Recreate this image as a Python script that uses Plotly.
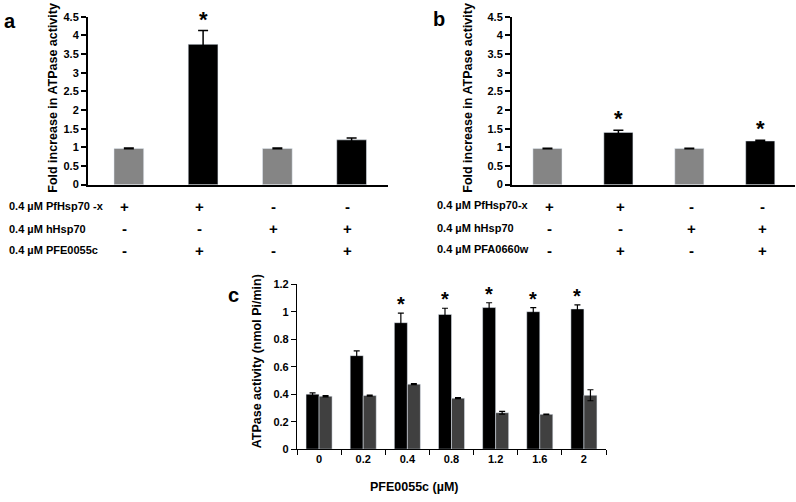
import plotly.graph_objects as go

# ---------------- data ----------------
# Panel a
cats_a = ["PfHsp70-x", "PfHsp70-x + PFE0055c", "hHsp70", "hHsp70 + PFE0055c"]
vals_a = [0.97, 3.76, 0.97, 1.20]
err_a = [0.01, 0.37, 0.01, 0.05]
colors_a = ["#858585", "#000000", "#858585", "#000000"]
sig_a = [False, True, False, False]
rows_a = ["0.4 µM PfHsp70 -x", "0.4 µM hHsp70", "0.4 µM PFE0055c"]
signs_a = [["+", "+", "-", "-"], ["-", "-", "+", "+"], ["-", "+", "-", "+"]]

# Panel b
cats_b = ["PfHsp70-x", "PfHsp70-x + PFA0660w", "hHsp70", "hHsp70 + PFA0660w"]
vals_b = [0.97, 1.40, 0.97, 1.17]
err_b = [0.005, 0.06, 0.005, 0.02]
colors_b = ["#858585", "#000000", "#858585", "#000000"]
sig_b = [False, True, False, True]
rows_b = ["0.4 µM PfHsp70-x", "0.4 µM hHsp70", "0.4 µM PFA0660w"]
signs_b = [["+", "+", "-", "-"], ["-", "-", "+", "+"], ["-", "+", "-", "+"]]

# Panel c
conc_c = ["0", "0.2", "0.4", "0.8", "1.2", "1.6", "2"]
pf_c = [0.40, 0.68, 0.92, 0.98, 1.03, 1.00, 1.02]
pf_err_c = [0.01, 0.035, 0.07, 0.045, 0.035, 0.03, 0.03]
h_c = [0.385, 0.39, 0.473, 0.371, 0.265, 0.253, 0.392]
h_err_c = [0.005, 0.004, 0.004, 0.004, 0.01, 0.002, 0.04]
sig_c = [False, False, True, True, True, True, True]

W, H = 796, 502
FONT = "Liberation Sans, Arial, sans-serif"


def px(x):
    return x / W


def py(y):
    return 1 - y / H


fig = go.Figure()

# ---------------- panel a ----------------
fig.add_trace(go.Bar(
    x=cats_a, y=vals_a, marker_color=colors_a, width=0.4,
    error_y=dict(type="data", array=err_a, color="black", thickness=1.5, width=5),
    xaxis="x", yaxis="y", showlegend=False))

# ---------------- panel b ----------------
fig.add_trace(go.Bar(
    x=cats_b, y=vals_b, marker_color=colors_b, width=0.41,
    error_y=dict(type="data", array=err_b, color="black", thickness=1.5, width=5),
    xaxis="x2", yaxis="y2", showlegend=False))

# ---------------- panel c ----------------
fig.add_trace(go.Bar(
    x=conc_c, y=pf_c, name="PfHsp70-x", marker_color="#000000",
    error_y=dict(type="data", array=pf_err_c, color="black", thickness=1.2, width=3),
    xaxis="x3", yaxis="y3", showlegend=False))
fig.add_trace(go.Bar(
    x=conc_c, y=h_c, name="hHsp70", marker_color="#404040",
    error_y=dict(type="data", array=h_err_c, color="black", thickness=1.2, width=3),
    xaxis="x3", yaxis="y3", showlegend=False))

bold11 = dict(family=FONT, size=11, color="black", weight="bold")

yax_common = dict(showline=True, linecolor="black", ticks="outside", ticklen=5,
                  tickcolor="black", tickfont=bold11, showgrid=False, zeroline=False)

fig.update_layout(
    width=W, height=H,
    margin=dict(l=0, r=0, t=0, b=0),
    paper_bgcolor="white", plot_bgcolor="white",
    barmode="group", bargap=0.41, bargroupgap=0,
    font=dict(family=FONT, color="black"),
    xaxis=dict(domain=[px(88), px(388)], range=[-0.55, 3.49], anchor="y",
               showline=True, linecolor="black", linewidth=2,
               showticklabels=False, ticks="", showgrid=False),
    yaxis=dict(domain=[py(183), py(11)], range=[0, 4.5], dtick=0.5, anchor="x",
               linewidth=2, tickwidth=1.5, **yax_common),
    xaxis2=dict(domain=[px(512), px(795)], range=[-0.5, 3.49], anchor="y2",
                showline=True, linecolor="black", linewidth=2,
                showticklabels=False, ticks="", showgrid=False),
    yaxis2=dict(domain=[py(183), py(11)], range=[0, 4.5], dtick=0.5, anchor="x2",
                linewidth=2, tickwidth=1.5, **yax_common),
    xaxis3=dict(domain=[px(297), px(606)], range=[-0.5, 6.5], anchor="y3",
                type="category", showline=True, linecolor="black", linewidth=1.2,
                ticks="outside", tickson="boundaries", ticklen=5, tickcolor="black",
                tickfont=bold11, showgrid=False),
    yaxis3=dict(domain=[py(454), py(285)], range=[0, 1.2], dtick=0.2, anchor="x3",
                linewidth=1.2, tickwidth=1.2, **yax_common),
)

ann = []
# panel letters
for letter, lx, ly in [("a", 2, 15), ("b", 431, 13), ("c", 226, 296)]:
    ann.append(dict(text=letter, x=px(lx), y=py(ly), xref="paper", yref="paper",
                    xanchor="left", yanchor="middle", showarrow=False,
                    font=dict(family=FONT, size=20, weight="bold")))

# axis titles
title_font = dict(family=FONT, size=12.5, weight="bold")
ann.append(dict(text="Fold increase in ATPase activity", x=px(53), y=py(94),
                xref="paper", yref="paper", textangle=-90, showarrow=False,
                xanchor="center", yanchor="middle", font=title_font))
ann.append(dict(text="Fold increase in ATPase activity", x=px(468), y=py(94),
                xref="paper", yref="paper", textangle=-90, showarrow=False,
                xanchor="center", yanchor="middle", font=title_font))
ann.append(dict(text="ATPase activity (nmol Pi/min)", x=px(257), y=py(364),
                xref="paper", yref="paper", textangle=-90, showarrow=False,
                xanchor="center", yanchor="middle", font=title_font))
ann.append(dict(text="PFE0055c (µM)", x=px(414), y=py(493),
                xref="paper", yref="paper", showarrow=False,
                xanchor="center", yanchor="middle", font=title_font))

# significance stars
star_font = dict(family=FONT, size=22, weight="bold")
for i, (v, e, s) in enumerate(zip(vals_a, err_a, sig_a)):
    if s:
        ann.append(dict(text="*", x=i, y=v + e, xref="x", yref="y", showarrow=False,
                        yanchor="bottom", yshift=-3, font=star_font))
for i, (v, e, s) in enumerate(zip(vals_b, err_b, sig_b)):
    if s:
        ann.append(dict(text="*", x=i, y=v + e, xref="x2", yref="y2", showarrow=False,
                        yanchor="bottom", yshift=-3, font=star_font))
for i, (v, e, s) in enumerate(zip(pf_c, pf_err_c, sig_c)):
    if s:
        ann.append(dict(text="*", x=i, y=v + e, xref="x3", yref="y3", showarrow=False,
                        yanchor="bottom", yshift=-4, xshift=-6.5,
                        font=dict(family=FONT, size=20, weight="bold")))

# condition tables
sign_font = dict(family=FONT, size=15, weight="bold")
row_y = [205, 228, 250]
for r, lab in enumerate(rows_a):
    ann.append(dict(text=lab, x=px(7), y=py(row_y[r]), xref="paper", yref="paper",
                    xanchor="left", yanchor="middle", showarrow=False, font=bold11))
    for i, sgn in enumerate(signs_a[r]):
        ann.append(dict(text=sgn, x=i, y=py(row_y[r]), xref="x", yref="paper",
                        xanchor="center", yanchor="middle", showarrow=False, xshift=-4,
                        font=sign_font))
for r, lab in enumerate(rows_b):
    ann.append(dict(text=lab, x=px(435), y=py(row_y[r] - 1), xref="paper", yref="paper",
                    xanchor="left", yanchor="middle", showarrow=False, font=bold11))
    for i, sgn in enumerate(signs_b[r]):
        ann.append(dict(text=sgn, x=i, y=py(row_y[r]), xref="x2", yref="paper",
                        xanchor="center", yanchor="middle", showarrow=False, xshift=2,
                        font=sign_font))

fig.update_layout(annotations=ann)
fig.write_html("out.html", config={"displayModeBar": False},
               post_script="document.body.style.margin='0px';")
